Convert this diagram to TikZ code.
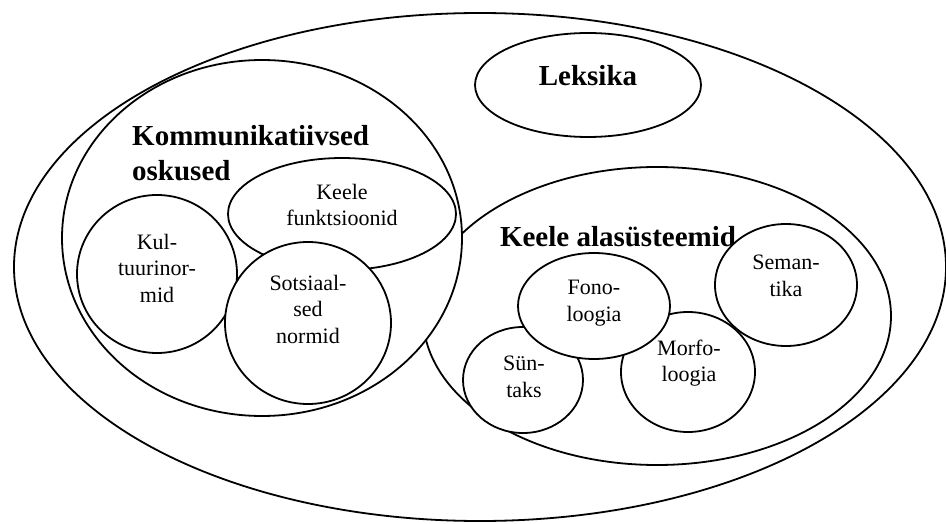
\documentclass[tikz,border=0pt]{standalone}
\usepackage{fontspec}
\setmainfont{Liberation Serif}
\usetikzlibrary{shapes.geometric}
\tikzset{
  ell/.style={ellipse, draw=black, line width=1.8pt, fill=white, inner sep=0pt},
  bigtxt/.style={font=\fontsize{29}{35}\selectfont\bfseries, inner sep=0pt},
  smalltxt/.style={font=\fontsize{22}{26.5}\selectfont, align=center, inner sep=0pt},
}
\begin{document}
\begin{tikzpicture}[x=1pt,y=-1pt]
\useasboundingbox (0,0) rectangle (946,524);
% outer
\node[ell, minimum width=932pt, minimum height=508pt] (outer) at (480,267) {};
% Leksika
\node[ell, minimum width=226pt, minimum height=104pt] (leks) at (588,85) {};
\node[bigtxt] (leksT) at (588,76) {Leksika};
% Keele alasysteemid
\node[ell, minimum width=468pt, minimum height=298pt] (alas) at (657,316) {};
\node[bigtxt] (alasT) at (618,237) {Keele alasüsteemid};
\node[ell, minimum width=142pt, minimum height=122pt] (sem) at (786,285) {};
\node[smalltxt] (semT) at (786,276) {Seman-\\tika};
\node[ell, minimum width=120pt, minimum height=106pt] (syn) at (523,380) {};
\node[ell, minimum width=134pt, minimum height=120pt] (morf) at (688,372) {};
\node[ell, minimum width=152pt, minimum height=106pt] (fono) at (594,306) {};
\node[smalltxt] (fonoT) at (594,303) {Fono-\\loogia};
\node[smalltxt] (synT) at (524,377) {Sün-\\taks};
\node[smalltxt] (morfT) at (689,363) {Morfo-\\loogia};
% Kommunikatiivsed oskused
\node[ell, minimum width=400pt, minimum height=356pt] (komm) at (262,238) {};
\node[bigtxt, align=left, anchor=west] (kommT) at (132,153) {Kommunikatiivsed\\oskused};
\node[ell, minimum width=228pt, minimum height=112pt] (funk) at (342,214) {};
\node[smalltxt] (funkT) at (342,205) {Keele\\funktsioonid};
\node[ell, minimum width=160pt, minimum height=158pt] (kult) at (157,274) {};
\node[smalltxt] (kultT) at (157,268) {Kul-\\tuurinor-\\mid};
\node[ell, minimum width=166pt, minimum height=162pt] (sots) at (308,323) {};
\node[smalltxt] (sotsT) at (308,309) {Sotsiaal-\\sed\\normid};
\end{tikzpicture}
\end{document}
